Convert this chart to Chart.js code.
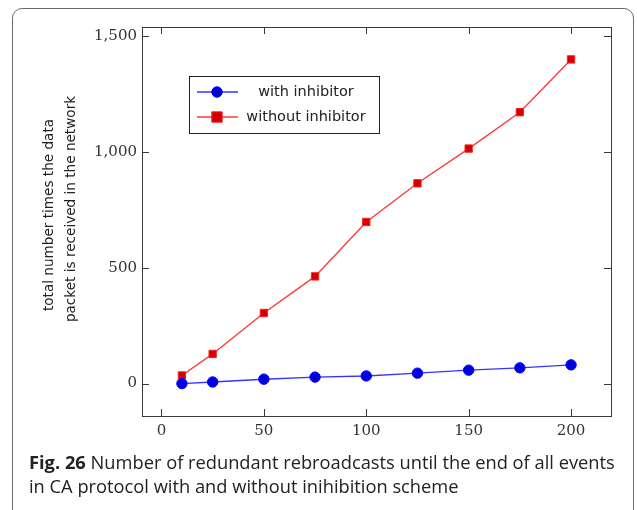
<!DOCTYPE html>
<html>
<head>
<meta charset="utf-8">
<script src="https://cdn.jsdelivr.net/npm/chart.js@4.4.1/dist/chart.umd.min.js"></script>
<style>
  html, body { margin: 0; padding: 0; background: #fff; overflow: hidden; }
  #wrap { position: relative; width: 637px; height: 510px; }
  #frame {
    position: absolute; left: 12px; top: 8px; width: 622px; height: 560px;
    border: 1px solid #6a6a6a; border-radius: 10px; box-sizing: border-box;
  }
  #chart { position: absolute; left: 0; top: 0; }
  #caption {
    position: absolute; left: 29px; top: 450px; width: 605px; white-space: nowrap;
    font-family: "Open Sans", sans-serif; font-size: 18.3px;
    line-height: 24px; color: #222;
  }
  #caption b { font-weight: 700; }
</style>
</head>
<body>
<div id="wrap">
  <div id="frame"></div>
  <canvas id="chart" width="637" height="510"></canvas>
  <div id="caption"><b>Fig. 26</b> Number of redundant rebroadcasts until the end of all events<br>in CA protocol with and without inihibition scheme</div>
</div>
<script>
// number of nodes on the x axis
const nodes = [10, 25, 50, 75, 100, 125, 150, 175, 200];
const withInhibitor = [0, 7, 19, 28, 33, 45, 58, 68, 81];
const withoutInhibitor = [35, 128, 305, 463, 698, 865, 1015, 1172, 1400];

const xTicks = [0, 50, 100, 150, 200];
const yTicks = [0, 500, 1000, 1500];
const yTitle = ['total number times the data', 'packet is received in the network'];
const seriesNames = ['with inhibitor', 'without inhibitor'];

const toPoints = ys => nodes.map((x, i) => ({ x: x, y: ys[i] }));

// frame, inward ticks on all sides, axis title and legend box
const pgfLook = {
  id: 'pgfLook',
  afterDatasetsDraw(chart) {
    const { ctx, chartArea: a, scales } = chart;
    const len = 7;
    ctx.save();
    ctx.strokeStyle = '#3a3a3a';
    ctx.lineWidth = 1;
    ctx.beginPath();
    xTicks.forEach(v => {
      const px = Math.round(scales.x.getPixelForValue(v)) + 0.5;
      ctx.moveTo(px, a.bottom); ctx.lineTo(px, a.bottom - len);
      ctx.moveTo(px, a.top); ctx.lineTo(px, a.top + len);
    });
    yTicks.forEach(v => {
      const py = Math.round(scales.y.getPixelForValue(v)) + 0.5;
      ctx.moveTo(a.left, py); ctx.lineTo(a.left + len, py);
      ctx.moveTo(a.right, py); ctx.lineTo(a.right - len, py);
    });
    ctx.stroke();
    ctx.strokeRect(Math.round(a.left) + 0.5, Math.round(a.top) + 0.5,
      Math.round(a.right - a.left), Math.round(a.bottom - a.top));

    // rotated two-line y title
    ctx.fillStyle = '#222';
    ctx.font = '13.6px "DejaVu Sans", sans-serif';
    ctx.textAlign = 'center';
    ctx.textBaseline = 'middle';
    ctx.translate(0, 215);
    ctx.rotate(-Math.PI / 2);
    ctx.fillText(yTitle[0], 0, 49);
    ctx.fillText(yTitle[1], 6, 71);
    ctx.setTransform(1, 0, 0, 1, 0, 0);

    // legend
    const lx = 189, ly = 76, lw = 190, lh = 57;
    ctx.fillStyle = '#fff';
    ctx.fillRect(lx, ly, lw, lh);
    ctx.strokeStyle = '#222';
    ctx.strokeRect(lx + 0.5, ly + 0.5, lw, lh);
    const rows = [92, 117];
    chart.data.datasets.forEach((ds, i) => {
      const y = rows[i];
      ctx.strokeStyle = ds.borderColor;
      ctx.lineWidth = ds.borderWidth;
      ctx.beginPath();
      ctx.moveTo(197, y); ctx.lineTo(238, y);
      ctx.stroke();
      ctx.fillStyle = ds.pointBackgroundColor;
      ctx.strokeStyle = ds.pointBorderColor;
      ctx.lineWidth = 1;
      const r = ds.pointRadius;
      ctx.beginPath();
      if (ds.pointStyle === 'rect') {
        ctx.rect(217 - r, y - r, 2 * r, 2 * r);
      } else {
        ctx.arc(217, y, r, 0, Math.PI * 2);
      }
      ctx.fill();
      ctx.stroke();
      ctx.fillStyle = '#222';
      ctx.font = '14.5px "DejaVu Sans", sans-serif';
      ctx.textAlign = 'center';
      ctx.fillText(seriesNames[i], 306, y);
    });
    ctx.restore();
  }
};

new Chart(document.getElementById('chart'), {
  type: 'line',
  data: {
    datasets: [
      {
        label: seriesNames[0],
        data: toPoints(withInhibitor),
        borderColor: '#3535ff',
        borderWidth: 1.4,
        pointStyle: 'circle',
        pointRadius: 5.2,
        pointBackgroundColor: '#0000dc',
        pointBorderColor: '#0000ff',
        pointBorderWidth: 1
      },
      {
        label: seriesNames[1],
        data: toPoints(withoutInhibitor),
        borderColor: '#ff3a3a',
        borderWidth: 1.4,
        pointStyle: 'rect',
        pointRadius: 5.2,
        pointBackgroundColor: '#d20000',
        pointBorderColor: '#ff2020',
        pointBorderWidth: 1
      }
    ]
  },
  options: {
    responsive: false,
    animation: false,
    layout: { padding: { top: 27, right: 26, left: 0, bottom: 64 } },
    plugins: { legend: { display: false }, tooltip: { enabled: false } },
    scales: {
      x: {
        type: 'linear',
        min: -9.5,
        max: 219.5,
        grid: { display: false, drawTicks: false },
        border: { display: false },
        afterBuildTicks: s => { s.ticks = xTicks.map(v => ({ value: v })); },
        afterFit: s => { s.height = 30; },
        ticks: {
          autoSkip: false,
          maxRotation: 0,
          padding: 6,
          color: '#333',
          font: { family: '"DejaVu Serif", serif', size: 15 }
        }
      },
      y: {
        type: 'linear',
        min: -140,
        max: 1540,
        grid: { display: false, drawTicks: false },
        border: { display: false },
        afterBuildTicks: s => { s.ticks = yTicks.map(v => ({ value: v })); },
        afterFit: s => { s.width = 142; },
        ticks: {
          padding: 5,
          color: '#333',
          font: { family: '"DejaVu Serif", serif', size: 15 },
          callback: v => v.toLocaleString('en-US')
        }
      }
    }
  },
  plugins: [pgfLook]
});
</script>
</body>
</html>
